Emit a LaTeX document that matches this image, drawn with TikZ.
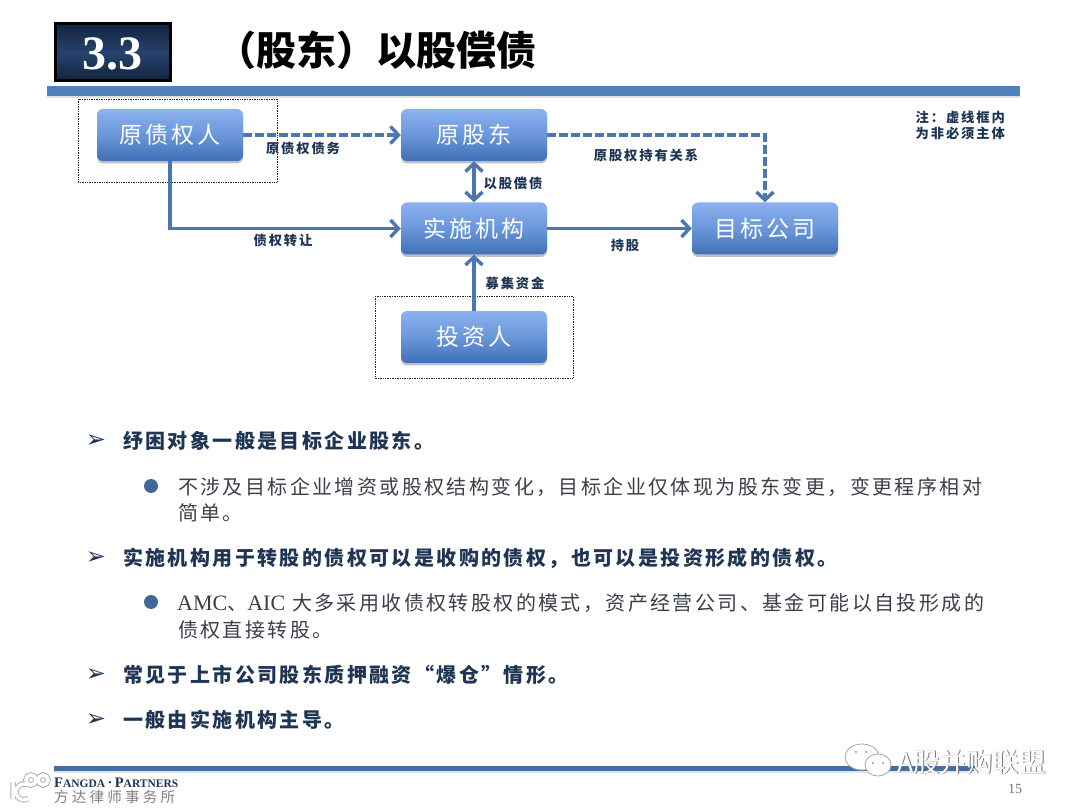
\documentclass[tikz,border=0pt]{standalone}
\usepackage{fontspec}
\setmainfont{Noto Sans CJK SC}
\newfontfamily\latf{Liberation Serif}
\newfontfamily\djvf{DejaVu Sans}
\newfontfamily\widef[LetterSpace=14]{Noto Sans CJK SC}
\newfontfamily\bodyf[LetterSpace=12]{Noto Sans CJK SC}
\newfontfamily\labf[LetterSpace=14]{Noto Sans CJK SC}
\usetikzlibrary{arrows.meta,shadows,positioning}
\definecolor{bar}{HTML}{4F81BD}
\definecolor{link}{HTML}{4A77B0}
\definecolor{navy}{HTML}{1F3554}
\definecolor{bodyc}{HTML}{3A3F4A}
\definecolor{blue1}{HTML}{8DB1EE}
\definecolor{blue3}{HTML}{6A97DA}
\definecolor{blue2}{HTML}{3F6FB5}
\definecolor{tagtop}{HTML}{14243F}
\definecolor{tagmid}{HTML}{27436E}
\definecolor{tagbot}{HTML}{12233C}
\tikzset{
  actor/.style={draw=none,rounded corners=6pt,minimum width=146pt,minimum height=52pt,inner sep=0pt,
    top color=blue1,bottom color=blue2,middle color=blue3,text=white,font=\widef\fontsize{23}{23}\selectfont,
    drop shadow={shadow xshift=0pt,shadow yshift=-2.5pt,opacity=.25,fill=black}},
  flow/.style={draw=link,line width=3.6pt,-{Straight Barb[length=8pt,width=17pt,line width=3.4pt]}},
  flowdash/.style={flow,line width=4.2pt,dash pattern=on 9pt off 3pt},
  frame/.style={draw=black!85,line width=.7pt,densely dotted},
  lab/.style={font=\bfseries\labf\fontsize{13.3}{13.3}\selectfont,text=navy,inner sep=0pt},
  lone/.style={anchor=west,inner sep=0pt,font=\bfseries\bodyf\fontsize{20}{20}\selectfont,text=navy},
  ltwo/.style={anchor=west,inner sep=0pt,font=\bodyf\fontsize{20}{20}\selectfont,text=bodyc},
  arrowmark/.style={inner sep=0pt,font=\djvf\fontsize{24}{24}\selectfont,text=navy},
  dotmark/.style={circle,fill=bar!80!black,minimum size=14pt,inner sep=0pt},
}
\begin{document}
\begin{tikzpicture}[x=1pt,y=-1pt]
\useasboundingbox (0,0) rectangle (1080,810);
\fill[white] (0,0) rectangle (1080,810);
% header
\node[draw=black,line width=3pt,minimum width=115pt,minimum height=57pt,inner sep=0pt,
  top color=tagtop,bottom color=tagbot,middle color=tagmid] (tag) at (112.5,52.5) {};
\node[text=white,inner sep=0pt,font=\latf\bfseries\fontsize{48}{48}\selectfont] (tagtext) at (112,54) {3.3};
\node[anchor=center,inner sep=0pt,text=black,font=\bfseries\fontsize{40}{40}\selectfont] (title) at (376,50) {（股东）以股偿债};
\fill[bar] (47,86) rectangle (1020,96);
\fill[black,opacity=.12] (47,96) rectangle (1020,98);
% frames
\draw[frame] (78,99) rectangle (277,182);
\draw[frame] (375,296) rectangle (573,378);
% boxes
\node[actor] (creditor) at (170,135) {原债权人};
\node[actor] (holder) at (474,135) {原股东};
\node[actor] (agency) at (474,228.5) {实施机构};
\node[actor] (target) at (765,228.5) {目标公司};
\node[actor] (investor) at (474,337) {投资人};
% connectors
\draw[flowdash] (creditor) -- (holder);
\draw[flowdash] (holder.east) -| (target.north);
\draw[flow] (creditor.south) |- (agency.west);
\draw[flow,{Straight Barb[length=8pt,width=17pt,line width=3.4pt]}-{Straight Barb[length=8pt,width=17pt,line width=3.4pt]}] (holder) -- (agency);
\draw[flow] (agency) -- (target);
\draw[flow] (investor) -- (agency);
% labels
\node[lab] (l1) at (303,148) {原债权债务};
\node[lab] (l2) at (513,183) {以股偿债};
\node[lab] (l3) at (646,155) {原股权持有关系};
\node[lab] (l4) at (283,240) {债权转让};
\node[lab] (l5) at (625,245) {持股};
\node[lab] (l6) at (515,283) {募集资金};
\node[lab,anchor=east] (n1) at (1005,117) {注：虚线框内};
\node[lab,anchor=east] (n2) at (1005,133) {为非必须主体};
% bullets
\node[arrowmark] (m1) at (96,441) {➢};
\node[lone] (b1) at (123,441) {纾困对象一般是目标企业股东。};
\node[dotmark] (d1) at (151,486) {};
\node[ltwo] (b2) at (178,487) {不涉及目标企业增资或股权结构变化，目标企业仅体现为股东变更，变更程序相对};
\node[ltwo] (b3) at (178,513) {简单。};
\node[arrowmark] (m2) at (96,558) {➢};
\node[lone] (b4) at (123,558) {实施机构用于转股的债权可以是收购的债权，也可以是投资形成的债权。};
\node[dotmark] (d2) at (151,602) {};
\node[ltwo] (b5) at (177,603) {{\latf\fontsize{22}{22}\selectfont AMC}、{\latf\fontsize{22}{22}\selectfont AIC} 大多采用收债权转股权的模式，资产经营公司、基金可能以自投形成的};
\node[ltwo] (b6) at (178,630) {债权直接转股。};
\node[arrowmark] (m3) at (96,675) {➢};
\node[lone] (b7) at (123,675) {常见于上市公司股东质押融资“爆仓”情形。};
\node[arrowmark] (m4) at (96,720) {➢};
\node[lone] (b8) at (123,720) {一般由实施机构主导。};
% footer
\fill[bar!85!black] (54,766) rectangle (975,770.5);
\fill[black,opacity=.1] (54,770.5) rectangle (975,772.5);
\node[anchor=west,inner sep=0pt,text=navy,font=\latf\bfseries\fontsize{14.5}{14.5}\selectfont] (brand) at (54,783) {F\fontsize{11.5}{11.5}\selectfont ANGDA\fontsize{14.5}{14.5}\selectfont\,·\,P\fontsize{11.5}{11.5}\selectfont ARTNERS};
\node[anchor=west,inner sep=0pt,text=black!50,font=\fontsize{14.5}{14.5}\selectfont] (brandcn) at (54,797) {方 达 律 师 事 务 所};
\node[inner sep=0pt,text=black!55,font=\latf\fontsize{14}{14}\selectfont] (page) at (1015,789) {15};
% watermark
\foreach \col/\wd in {black!30/5.5pt,white/3.5pt}{
  \draw[draw=\col,line width=\wd,fill=none] (13,782) -- (13,799)
    (28,785) arc[start angle=300,end angle=60,radius=8]
    (31,780) circle[radius=5] (43,780) circle[radius=5];
}
\begin{scope}[draw=black!35,fill=white,line width=.8pt]
\filldraw (862,757) ellipse[x radius=17,y radius=13];
\filldraw (878,765) ellipse[x radius=13,y radius=11];
\end{scope}
\fill[black!40] (856,752) circle[radius=1.2] (866,752) circle[radius=1.2] (873,763) circle[radius=1.2] (883,763) circle[radius=1.2];
\node[anchor=west,inner sep=0pt,text=black!55,font=\fontsize{26.5}{26.5}\selectfont] (wm0) at (897.8,762.8) {A股并购联盟};
\node[anchor=west,inner sep=0pt,text=white,font=\fontsize{26.5}{26.5}\selectfont] (wm) at (897,762) {A股并购联盟};
\end{tikzpicture}
\end{document}
